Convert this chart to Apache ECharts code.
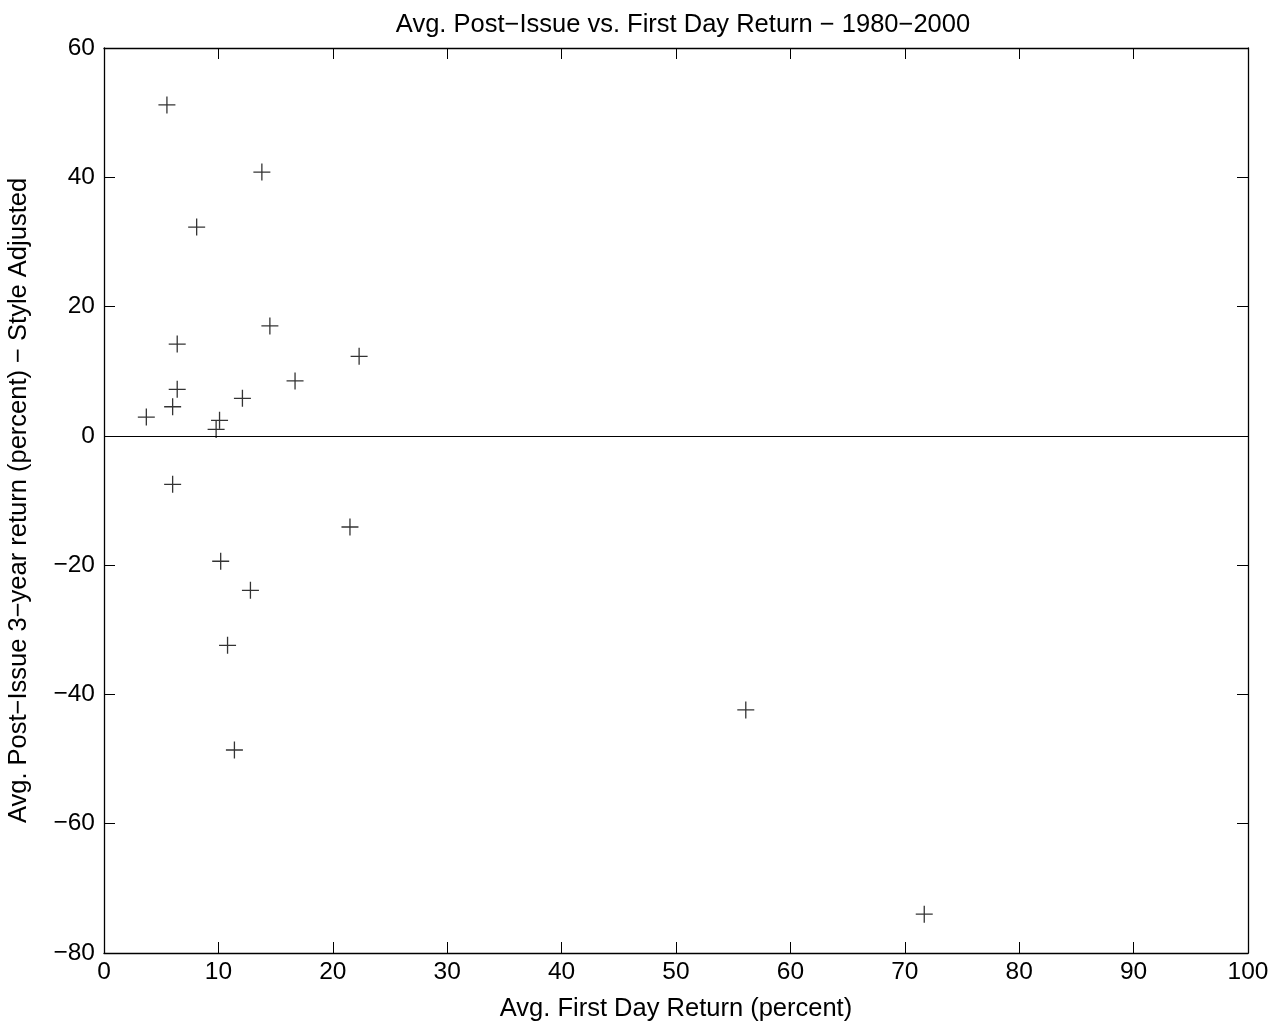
<!DOCTYPE html>
<html><head><meta charset="utf-8">
<script src="https://cdn.jsdelivr.net/npm/echarts@6/dist/echarts.min.js"></script>
<style>html,body{margin:0;padding:0;background:#fff}#c{width:1277px;height:1022px}</style>
</head><body><div id="c"></div>
<script>
const firstDayReturn = [5.5, 13.8, 8.1, 14.5, 6.4, 22.3, 16.7, 6.4, 12.1, 6.0, 3.7, 10.1, 9.8, 6.0, 21.5, 10.2, 12.8, 10.8, 11.4, 56.1, 71.7];
const postIssueReturn = [51.2, 40.8, 32.3, 17.0, 14.2, 12.3, 8.5, 7.2, 5.8, 4.5, 2.9, 2.4, 1.0, -7.5, -14.1, -19.4, -23.9, -32.4, -48.6, -42.4, -74.0];
const xTicks = [0, 10, 20, 30, 40, 50, 60, 70, 80, 90, 100];
const yTicks = [-80, -60, -40, -20, 0, 20, 40, 60];

const fmt = v => String(v).replace('-', '\u2212');
const font = 'Liberation Sans, Arial, sans-serif';
const chart = echarts.init(document.getElementById('c'), null, {renderer: 'canvas'});
const axisBase = {
  axisLine: {show: true, onZero: false, lineStyle: {color: '#000', width: 1.3}},
  axisTick: {show: true, inside: true, length: 11, lineStyle: {color: '#000', width: 1}},
  splitLine: {show: false}
};
chart.setOption({
  animation: false,
  backgroundColor: '#fff',
  title: {text: 'Avg. Post\u2212Issue vs. First Day Return \u2212 1980\u22122000', left: 678, top: 7, textAlign: 'center',
    textStyle: {fontFamily: font, fontSize: 25.5, fontWeight: 'normal', color: '#000'}},
  grid: {left: 104, right: 29, top: 48, bottom: 69, containLabel: false, outerBoundsMode: 'none'},
  xAxis: [
    Object.assign({type: 'value', min: xTicks[0], max: xTicks[xTicks.length-1], interval: 10, position: 'bottom',
      name: 'Avg. First Day Return (percent)', nameLocation: 'middle', nameGap: 43,
      nameTextStyle: {fontFamily: font, fontSize: 25.5, color: '#000'},
      axisLabel: {fontFamily: font, fontSize: 24.5, color: '#000', margin: 7, formatter: fmt}}, axisBase),
    Object.assign({type: 'value', min: xTicks[0], max: xTicks[xTicks.length-1], interval: 10, position: 'top',
      axisLabel: {show: false}}, axisBase)
  ],
  yAxis: [
    Object.assign({type: 'value', min: yTicks[0], max: yTicks[yTicks.length-1], interval: 20, position: 'left',
      name: 'Avg. Post\u2212Issue 3\u2212year return (percent) \u2212 Style Adjusted', nameLocation: 'middle', nameGap: 72,
      nameTextStyle: {fontFamily: font, fontSize: 25.5, color: '#000'},
      axisLabel: {fontFamily: font, fontSize: 24.5, color: '#000', margin: 9, formatter: fmt}}, axisBase),
    Object.assign({type: 'value', min: yTicks[0], max: yTicks[yTicks.length-1], interval: 20, position: 'right',
      axisLabel: {show: false}}, axisBase)
  ],
  series: [{
    type: 'scatter',
    data: firstDayReturn.map((x, i) => [x, postIssueReturn[i]]),
    symbol: 'path://M0,-10 L0,10 M-10,0 L10,0',
    symbolSize: 17,
    itemStyle: {color: 'none', borderColor: '#000', borderWidth: 1.3},
    markLine: {
      silent: true, symbol: 'none', label: {show: false},
      lineStyle: {color: '#000', width: 1.2, type: 'solid'},
      data: [{yAxis: 0}]
    }
  }]
});
</script></body></html>
